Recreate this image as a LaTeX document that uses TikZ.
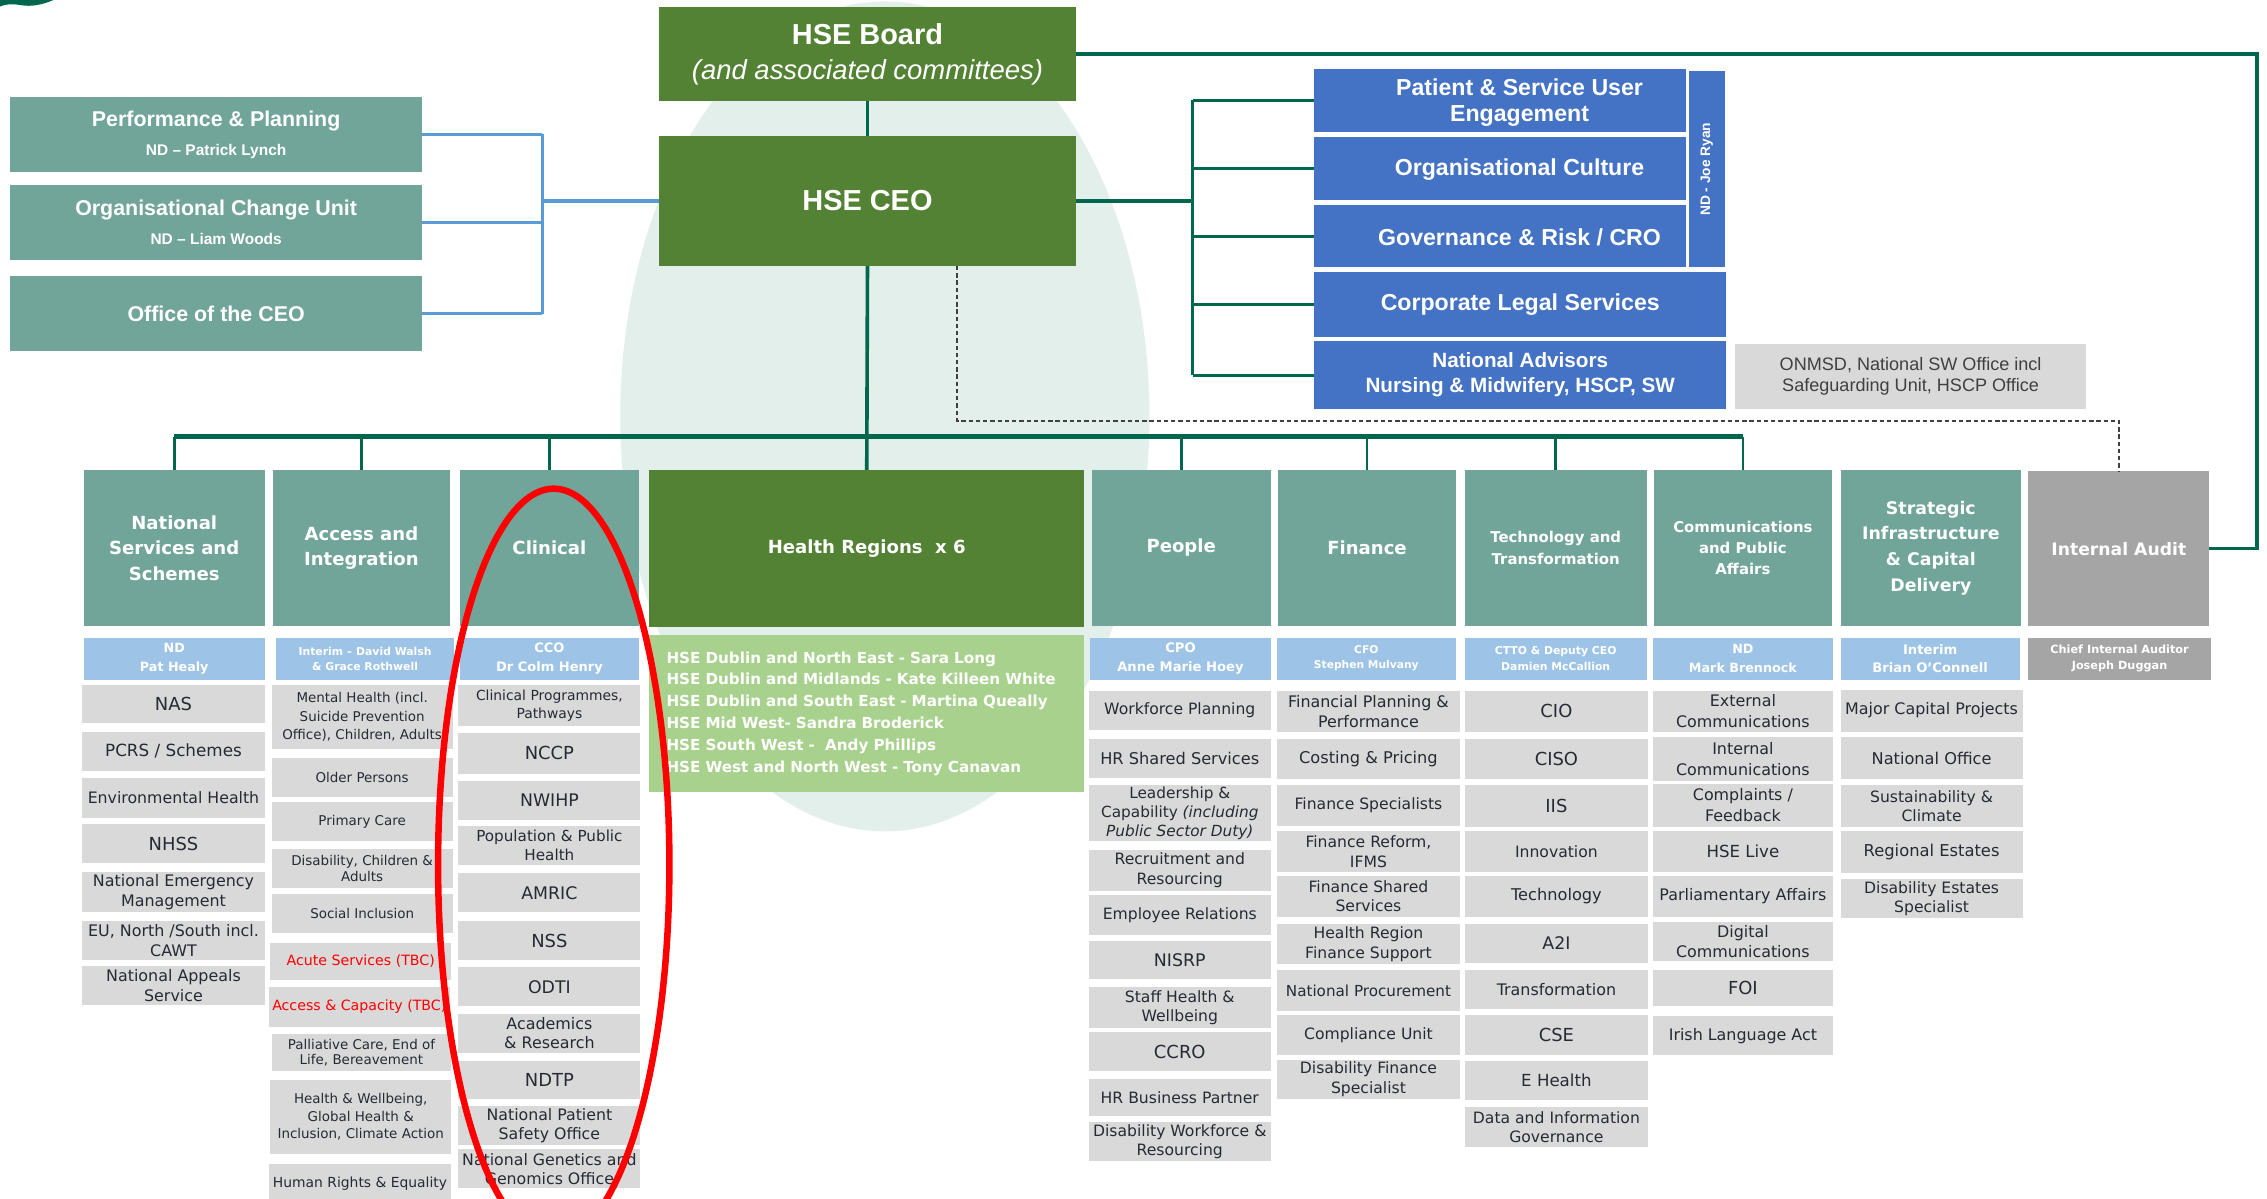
\documentclass[tikz,border=0pt]{standalone}
\usepackage{fontspec}
\newfontfamily\dv{DejaVu Sans}
\newfontfamily\ls{Liberation Sans}
\definecolor{dkgreen}{HTML}{548235}
\definecolor{hteal}{HTML}{71A599}
\definecolor{hblue}{HTML}{4472C4}
\definecolor{lblue}{HTML}{9DC3E6}
\definecolor{lgreen}{HTML}{A9D18E}
\definecolor{igrey}{HTML}{D9D9D9}
\definecolor{agrey}{HTML}{A5A5A5}
\definecolor{itxt}{HTML}{262A33}
\definecolor{conn}{HTML}{00674F}
\definecolor{lconn}{HTML}{5B9BD5}
\definecolor{pale}{HTML}{E2EFEB}
\definecolor{dashc}{HTML}{404040}
\newcommand\fz[2]{\fontsize{#1}{#2}\selectfont}
\newcommand\fnR[2]{\dv\fz{#1}{#2}}
\newcommand\fnB[2]{\dv\bfseries\fz{#1}{#2}}
\newcommand\obox[7]{\node[#1,minimum width={(#4)-(#2)},minimum height={(#5)-(#3)}] (#6) at ({((#2)+(#4))/2},{((#3)+(#5))/2}) {#7};}
\begin{document}
\begin{tikzpicture}[x=1pt,y=-1pt,
  bbase/.style={inner sep=0pt,outer sep=0pt,align=center,text=white},
  topbox/.style={bbase,font=\ls\bfseries\fz{14.8}{20}},
  grn/.style={topbox,fill=dkgreen},
  tlb/.style={topbox,fill=hteal},
  blb/.style={topbox,fill=hblue,font=\ls\bfseries\fz{16}{18.5}},
  blt/.style={bbase,font=\ls\bfseries\fz{16}{18.5}},
  hdr/.style={bbase,fill=hteal,font=\fnB{12.5}{17.6}},
  sub/.style={bbase,fill=lblue,font=\fnB{8.8}{13}},
  itm/.style={bbase,fill=igrey,text=itxt,font=\fnR{10.8}{13.5}},
  itb/.style={itm,font=\fnR{12.4}{14}},
  itc/.style={itm,font=\fnR{9.3}{12}},
  ln/.style={draw=conn,line width=2.2pt},
  lnb/.style={draw=lconn,line width=2.2pt},
  dsh/.style={draw=dashc,line width=1.2pt,dash pattern=on 3pt off 2pt}]
\useasboundingbox (0,0) rectangle (1568,829);
\clip (0,0) rectangle (1568,829);
\fill[pale] (612,288) ellipse [x radius=183, y radius=287];
\fill[conn] (0,0) -- (37,0) .. controls (30,3) and (22,5) .. (14,3.5) .. controls (8,2.5) and (3,3) .. (0,4.5) -- cycle;

% top boxes
\obox{grn,font=\ls\fz{20}{24.2}}{456}{5}{744}{70}{board}{\textbf{HSE Board}\\{\fz{19}{24.2}\itshape (and associated committees)}}
\obox{grn,font=\ls\bfseries\fz{20}{24}}{456}{94}{744}{184}{ceo}{HSE CEO}
\obox{tlb}{7}{67}{292}{119}{perf}{Performance \& Planning\\{\fz{10.7}{20}ND – Patrick Lynch}}
\obox{tlb}{7}{128}{292}{180}{ocu}{Organisational Change Unit\\{\fz{10.7}{20}ND – Liam Woods}}
\obox{tlb}{7}{191}{292}{243}{office}{Office of the CEO}
\obox{blb}{909}{48}{1166}{91}{pse}{}
\obox{blb}{909}{95}{1166}{138}{oc}{}
\obox{blb}{909}{142}{1166}{185}{gr}{}
\node[blt] (pset) at (1051,71) {Patient \& Service User\\Engagement};
\node[blt] (oct) at (1051,117) {Organisational Culture};
\node[blt] (grt) at (1051,164) {Governance \& Risk / CRO};
\obox{blb}{1168}{49}{1193}{185}{jr}{}
\node[rotate=90,text=white,font=\ls\bfseries\fz{9.5}{11}] (jrt) at (jr.center) {ND - Joe Ryan};
\obox{blb}{909}{188}{1194}{233}{cls}{Corporate Legal Services}
\obox{blb,font=\ls\bfseries\fz{14.3}{17.3}}{909}{236}{1194}{283}{na}{National Advisors\\Nursing \& Midwifery, HSCP, SW}
\obox{bbase,fill=igrey,text=dashc,font=\ls\fz{12.5}{14.5}}{1200}{238}{1443}{283}{onmsd}{ONMSD, National SW Office incl\\Safeguarding Unit, HSCP Office}

% column headers
\obox{hdr}{58}{325}{183}{433}{h1}{National\\Services and\\Schemes}
\obox{hdr}{189}{325}{311}{433}{h2}{Access and\\Integration}
\obox{hdr}{318}{325}{442}{433}{h3}{Clinical}
\obox{hdr,fill=dkgreen}{449}{325}{750}{434}{hr}{Health Regions\ \ x 6}
\obox{hdr}{755}{325}{879}{433}{h5}{People}
\obox{hdr}{884}{325}{1007}{433}{h6}{Finance}
\obox{hdr,font=\fnB{10.3}{14.6}}{1013}{325}{1139}{433}{h7}{Technology and\\Transformation}
\obox{hdr,font=\fnB{10.3}{14.6}}{1144}{325}{1267}{433}{h8}{Communications\\and Public\\Affairs}
\obox{hdr,font=\fnB{12}{17.8}}{1273}{325}{1398}{433}{h9}{Strategic\\Infrastructure\\\& Capital\\Delivery}
\obox{hdr,fill=agrey,font=\fnB{11.9}{14}}{1403}{326}{1528}{433}{ia}{Internal Audit}

% sub headers
\obox{sub}{58}{441}{183}{470}{s1}{ND\\Pat Healy}
\obox{sub,font=\fnB{7.5}{10.5}}{191}{441}{314}{470}{s2}{Interim – David Walsh\\\& Grace Rothwell}
\obox{sub,font=\fnB{9}{13}}{318}{441}{442}{470}{s3}{CCO\\Dr Colm Henry}
\obox{sub,font=\fnB{9.1}{13}}{754}{441}{879}{470}{s5}{CPO\\Anne Marie Hoey}
\obox{sub,font=\fnB{7.4}{10.5}}{883}{441}{1007}{470}{s6}{CFO\\Stephen Mulvany}
\obox{sub,font=\fnB{7.5}{10.5}}{1013}{441}{1139}{470}{s7}{CTTO \& Deputy CEO\\Damien McCallion}
\obox{sub}{1143}{441}{1268}{470}{s8}{ND\\Mark Brennock}
\obox{sub,font=\fnB{9.1}{12.4}}{1273}{441}{1397}{470}{s9}{Interim\\Brian O’Connell}
\obox{sub,fill=agrey,font=\fnB{7.8}{10.8}}{1403}{441}{1529}{470}{s10}{Chief Internal Auditor\\Joseph Duggan}

\obox{bbase,fill=lgreen,font=\fnB{10.5}{15.05},align=left,text width=277}{449}{439}{750}{548}{hrl}{HSE Dublin and North East - Sara Long\\HSE Dublin and Midlands - Kate Killeen White\\HSE Dublin and South East - Martina Queally\\HSE Mid West- Sandra Broderick\\HSE South West -\ \ Andy Phillips\\HSE West and North West - Tony Canavan}

% column 1
\obox{itb}{57}{474}{183}{500}{c1a}{NAS}
\obox{itm,font=\fnR{11.6}{14}}{57}{506}{183}{533}{c1b}{PCRS / Schemes}
\obox{itm,font=\fnR{10.9}{13.5}}{57}{538}{183}{566}{c1c}{Environmental Health}
\obox{itb}{57}{570}{183}{597}{c1d}{NHSS}
\obox{itm,font=\fnR{11}{13.5}}{57}{603}{183}{631}{c1e}{National Emergency\\Management}
\obox{itm,font=\fnR{11}{13.5}}{57}{637}{183}{664}{c1f}{EU, North /South incl.\\CAWT}
\obox{itm,font=\fnR{11}{13.5}}{57}{668}{183}{695}{c1g}{National Appeals\\Service}

% column 2
\obox{itc,font=\fnR{9.3}{12.7}}{188}{474}{313}{518}{c2a}{Mental Health (incl.\\Suicide Prevention\\Office), Children, Adults}
\obox{itc}{188}{524}{313}{551}{c2b}{Older Persons}
\obox{itc}{188}{555}{313}{582}{c2c}{Primary Care}
\obox{itc,font=\fnR{9.3}{11}}{188}{587}{313}{614}{c2d}{Disability, Children \&\\Adults}
\obox{itc}{188}{618}{313}{645}{c2e}{Social Inclusion}
\obox{itc,text=red,font=\fnR{9.8}{12}}{187}{652}{312}{678}{c2f}{Acute Services (TBC)}
\obox{itc,text=red,font=\fnR{9.8}{12}}{186}{683}{311}{710}{c2g}{Access \& Capacity (TBC)}
\obox{itc,font=\fnR{9.3}{10.8}}{188}{715}{312}{741}{c2h}{Palliative Care, End of\\Life, Bereavement}
\obox{itc}{187}{747}{312}{798}{c2i}{Health \& Wellbeing,\\Global Health \&\\Inclusion, Climate Action}
\obox{itc,font=\fnR{9.6}{12}}{186}{805}{312}{832}{c2j}{Human Rights \& Equality}

% column 3
\obox{itm,font=\fnR{9.6}{12.8}}{317}{474}{443}{502}{c3a}{Clinical Programmes,\\Pathways}
\obox{itb}{317}{507}{443}{535}{c3b}{NCCP}
\obox{itm,font=\fnR{12}{14}}{317}{540}{443}{567}{c3c}{NWIHP}
\obox{itm,font=\fnR{10.5}{13.3}}{317}{571}{443}{598}{c3d}{Population \& Public\\Health}
\obox{itm,font=\fnR{12}{14}}{317}{604}{443}{631}{c3e}{AMRIC}
\obox{itb}{317}{637}{443}{664}{c3f}{NSS}
\obox{itm,font=\fnR{12}{14}}{317}{669}{443}{696}{c3g}{ODTI}
\obox{itm,font=\fnR{11}{13.3}}{317}{701}{443}{728}{c3h}{Academics\\\& Research}
\obox{itb}{317}{734}{443}{760}{c3i}{NDTP}
\obox{itm,font=\fnR{10.9}{13.3}}{317}{765}{443}{792}{c3j}{National Patient\\Safety Office}
\obox{itm,font=\fnR{10.9}{13.3}}{317}{795}{443}{822}{c3k}{National Genetics and\\Genomics Office}

% people
\obox{itm}{753}{478}{879}{505}{p1}{Workforce Planning}
\obox{itm,font=\fnR{11.2}{13.5}}{753}{511}{879}{538}{p2}{HR Shared Services}
\obox{itm,font=\fnR{10.6}{13.4}}{753}{543}{879}{582}{p3}{Leadership \&\\Capability \textit{(including}\\\textit{Public Sector Duty)}}
\obox{itm}{753}{588}{879}{616}{p4}{Recruitment and\\Resourcing}
\obox{itm}{753}{619}{879}{647}{p5}{Employee Relations}
\obox{itm,font=\fnR{12}{14}}{753}{651}{879}{677}{p6}{NISRP}
\obox{itm}{753}{683}{879}{711}{p7}{Staff Health \&\\Wellbeing}
\obox{itb}{753}{714}{879}{741}{p8}{CCRO}
\obox{itm}{753}{746}{879}{772}{p9}{HR Business Partner}
\obox{itm}{753}{776}{879}{803}{p10}{Disability Workforce \&\\Resourcing}

% finance
\obox{itm,font=\fnR{11}{13.5}}{883}{478}{1010}{506}{f1}{Financial Planning \&\\Performance}
\obox{itm,font=\fnR{11.2}{13.5}}{883}{511}{1010}{539}{f2}{Costing \& Pricing}
\obox{itm}{883}{543}{1010}{571}{f3}{Finance Specialists}
\obox{itm}{883}{575}{1010}{603}{f4}{Finance Reform,\\IFMS}
\obox{itm}{883}{606}{1010}{634}{f5}{Finance Shared\\Services}
\obox{itm}{883}{639}{1010}{667}{f6}{Health Region\\Finance Support}
\obox{itm,font=\fnR{10.5}{13.5}}{883}{671}{1010}{699}{f7}{National Procurement}
\obox{itm}{883}{702}{1010}{730}{f8}{Compliance Unit}
\obox{itm}{883}{733}{1010}{760}{f9}{Disability Finance\\Specialist}

% technology
\obox{itb}{1013}{478}{1140}{506}{t1}{CIO}
\obox{itb}{1013}{511}{1140}{539}{t2}{CISO}
\obox{itb}{1013}{543}{1140}{572}{t3}{IIS}
\obox{itm}{1013}{575}{1140}{603}{t4}{Innovation}
\obox{itm,font=\fnR{11.2}{13.5}}{1013}{606}{1140}{634}{t5}{Technology}
\obox{itm,font=\fnR{12}{14}}{1013}{639}{1140}{666}{t6}{A2I}
\obox{itm,font=\fnR{11}{13.5}}{1013}{671}{1140}{698}{t7}{Transformation}
\obox{itb}{1013}{702}{1140}{730}{t8}{CSE}
\obox{itm,font=\fnR{11.5}{13.5}}{1013}{734}{1140}{761}{t9}{E Health}
\obox{itm}{1013}{766}{1140}{793}{t10}{Data and Information\\Governance}

% communications
\obox{itm,font=\fnR{11}{14.6}}{1143}{478}{1268}{506}{m1}{External\\Communications}
\obox{itm,font=\fnR{11}{14.6}}{1143}{510}{1268}{540}{m2}{Internal\\Communications}
\obox{itm,font=\fnR{11}{14.6}}{1143}{542}{1268}{572}{m3}{Complaints /\\Feedback}
\obox{itm,font=\fnR{11.5}{13.5}}{1143}{575}{1268}{603}{m4}{HSE Live}
\obox{itm,font=\fnR{11}{13.5}}{1143}{606}{1268}{634}{m5}{Parliamentary Affairs}
\obox{itm,font=\fnR{11}{13.8}}{1143}{638}{1268}{665}{m6}{Digital\\Communications}
\obox{itb}{1143}{671}{1268}{696}{m7}{FOI}
\obox{itm,font=\fnR{11}{13.5}}{1143}{703}{1268}{730}{m8}{Irish Language Act}

% strategic
\obox{itm,font=\fnR{11}{13.5}}{1273}{477}{1399}{506}{g1}{Major Capital Projects}
\obox{itm,font=\fnR{11.2}{13.5}}{1273}{510}{1399}{539}{g2}{National Office}
\obox{itm}{1273}{543}{1399}{572}{g3}{Sustainability \&\\Climate}
\obox{itm,font=\fnR{11.3}{13.5}}{1273}{575}{1399}{604}{g4}{Regional Estates}
\obox{itm}{1273}{608}{1399}{635}{g5}{Disability Estates\\Specialist}

% connectors
\coordinate (lsp) at (375,0);
\draw[lnb] (ceo.west) -- (ceo.west -| lsp);
\draw[lnb] (perf.east -| lsp) -- (office.east -| lsp);
\foreach \n in {perf,ocu,office} \draw[lnb] (\n.east) -- (\n.east -| lsp);

\coordinate (rsp) at (825,0);
\draw[ln,line width=3pt] (ceo.east) -- (ceo.east -| rsp);
\draw[ln] (rsp |- pse.west) -- (rsp |- na.west);
\foreach \n in {pse,oc,gr,cls,na} \draw[ln] (rsp |- \n.west) -- (\n.west);

\draw[ln] (board.south) -- (ceo.north);
\coordinate (bc) at (1561,200);
\draw[ln,line width=2.5pt] (board.east) -| (bc) |- (ia.east);

\coordinate (bus) at (600,302);
\draw[ln,line width=2.5pt] (ceo.south) -- (hr.north);
\draw[ln,line width=3pt] (h1.north |- bus) -- (h8.north |- bus);
\foreach \n in {h1,h2,h3,h5,h6,h7,h8} \draw[ln,line width=1.8pt] (\n.north |- bus) -- (\n.north);

\coordinate (dk) at (662,291);
\draw[dsh] (dk |- ceo.south) -- (dk) -| (ia.north);

% red highlight
\draw[red,line width=4.5pt] (383,598) ellipse [x radius=80, y radius=260];
\end{tikzpicture}
\end{document}
